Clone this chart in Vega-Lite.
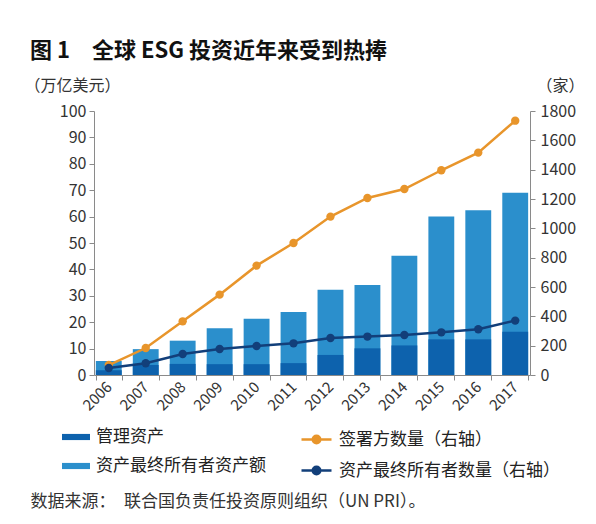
{
  "$schema": "https://vega.github.io/schema/vega-lite/v6.json",
  "autosize": "none",
  "width": 436,
  "height": 264,
  "padding": {"left": 94, "top": 111, "right": 66, "bottom": 149},
  "background": "white",
  "config": {
    "font": "Noto Sans CJK SC",
    "view": {"stroke": null},
    "axis": {"labelColor": "#333333", "labelFontSize": 16, "labelOverlap": false, "domainColor": "#8a8a8a", "tickColor": "#8a8a8a", "tickSize": 5, "grid": false, "titleColor": "#333333", "titleFontSize": 16, "titleFontWeight": "normal"}
  },
  "title": {
    "text": "图 1　全球 ESG 投资近年来受到热捧",
    "anchor": "start",
    "frame": "group",
    "dx": -64,
    "offset": 14,
    "fontSize": 22,
    "fontWeight": "bold",
    "color": "#111111"
  },
  "data": {
    "values": [
      {"year": "2006", "aum": 1.8, "total": 5.3, "signatories": 68, "owners": 48},
      {"year": "2007", "aum": 3.8, "total": 9.8, "signatories": 184, "owners": 80},
      {"year": "2008", "aum": 4.2, "total": 13.0, "signatories": 366, "owners": 143},
      {"year": "2009", "aum": 4.1, "total": 17.7, "signatories": 548, "owners": 177},
      {"year": "2010", "aum": 4.1, "total": 21.3, "signatories": 746, "owners": 198},
      {"year": "2011", "aum": 4.5, "total": 23.9, "signatories": 900, "owners": 216},
      {"year": "2012", "aum": 7.6, "total": 32.3, "signatories": 1080, "owners": 252},
      {"year": "2013", "aum": 10.1, "total": 34.1, "signatories": 1207, "owners": 262},
      {"year": "2014", "aum": 11.2, "total": 45.2, "signatories": 1268, "owners": 273},
      {"year": "2015", "aum": 13.5, "total": 60.0, "signatories": 1396, "owners": 291},
      {"year": "2016", "aum": 13.5, "total": 62.4, "signatories": 1516, "owners": 312},
      {"year": "2017", "aum": 16.4, "total": 69.0, "signatories": 1734, "owners": 371}
    ]
  },
  "encoding": {
    "x": {
      "field": "year",
      "type": "ordinal",
      "scale": {"paddingInner": 0.3, "paddingOuter": 0.05},
      "axis": {
        "labelAngle": -45,
        "labelAlign": "right",
        "labelBaseline": "middle",
        "labelFontSize": 15,
        "labelPadding": 4,
        "tickBand": "extent",
        "title": "数据来源：　联合国负责任投资原则组织（UN PRI）。",
        "titleFontSize": 17,
        "titleAlign": "left",
        "titleBaseline": "middle",
        "titleX": -64,
        "titleY": 126
      }
    }
  },
  "layer": [
    {
      "layer": [
        {
          "mark": {"type": "bar", "color": "#2b8fcc"},
          "encoding": {
            "y": {
              "field": "total",
              "type": "quantitative",
              "scale": {"domain": [0, 100]},
              "axis": {
                "values": [0, 10, 20, 30, 40, 50, 60, 70, 80, 90, 100],
                "format": "d",
                "labelPadding": 3,
                "title": "（万亿美元）",
                "titleAngle": 0,
                "titleAlign": "left",
                "titleBaseline": "middle",
                "titleX": -70,
                "titleY": -26
              }
            },
            "fill": {"datum": "资产最终所有者资产额"}
          }
        },
        {
          "mark": {"type": "bar"},
          "encoding": {
            "y": {
              "field": "aum",
              "type": "quantitative",
              "scale": {"domain": [0, 100]},
              "axis": {
                "values": [0, 10, 20, 30, 40, 50, 60, 70, 80, 90, 100],
                "format": "d",
                "labelPadding": 3,
                "title": "（万亿美元）",
                "titleAngle": 0,
                "titleAlign": "left",
                "titleBaseline": "middle",
                "titleX": -70,
                "titleY": -26
              }
            },
            "fill": {"datum": "管理资产"}
          }
        }
      ],
      "encoding": {
        "fill": {
          "type": "nominal",
          "scale": {"domain": ["管理资产", "资产最终所有者资产额"], "range": ["#0d62ad", "#2b8fcc"]},
          "legend": {
            "orient": "none",
            "legendX": -32,
            "legendY": 312,
            "title": null,
            "direction": "vertical",
            "labelFontSize": 17,
            "labelColor": "#222222",
            "labelLimit": 0,
            "labelOffset": 6,
            "symbolType": "M-1,-0.22H1V0.22H-1Z",
            "symbolSize": 784,
            "symbolStrokeWidth": 0,
            "rowPadding": 7,
            "padding": 0
          }
        }
      }
    },
    {
      "layer": [
        {
          "mark": {"type": "line", "strokeWidth": 2.5, "point": {"filled": true, "size": 70}},
          "encoding": {
            "y": {
              "field": "signatories",
              "type": "quantitative",
              "scale": {"domain": [0, 1800]},
              "axis": {
                "orient": "right",
                "values": [0, 200, 400, 600, 800, 1000, 1200, 1400, 1600, 1800],
                "format": "d",
                "labelPadding": 5,
                "title": "（家）",
                "titleAngle": 0,
                "titleAlign": "left",
                "titleBaseline": "middle",
                "titleX": 6,
                "titleY": -26
              }
            },
            "color": {"datum": "签署方数量（右轴）"}
          }
        },
        {
          "mark": {"type": "line", "strokeWidth": 2.5, "point": {"filled": true, "size": 70}},
          "encoding": {
            "y": {
              "field": "owners",
              "type": "quantitative",
              "scale": {"domain": [0, 1800]},
              "axis": {
                "orient": "right",
                "values": [0, 200, 400, 600, 800, 1000, 1200, 1400, 1600, 1800],
                "format": "d",
                "labelPadding": 5,
                "title": "（家）",
                "titleAngle": 0,
                "titleAlign": "left",
                "titleBaseline": "middle",
                "titleX": 6,
                "titleY": -26
              }
            },
            "color": {"datum": "资产最终所有者数量（右轴）"}
          }
        }
      ],
      "encoding": {
        "color": {
          "type": "nominal",
          "scale": {"domain": ["签署方数量（右轴）", "资产最终所有者数量（右轴）"], "range": ["#e8952b", "#123f7a"]},
          "legend": {
            "orient": "none",
            "legendX": 206,
            "legendY": 312,
            "title": null,
            "direction": "vertical",
            "labelFontSize": 17,
            "labelColor": "#222222",
            "labelLimit": 0,
            "labelOffset": 6,
            "symbolType": "M-1,0H1M0.25,0A0.25,0.25 0 1 1 -0.25,0A0.25,0.25 0 1 1 0.25,0",
            "symbolSize": 900,
            "symbolStrokeWidth": 2.5,
            "rowPadding": 5,
            "padding": 0,
            "encode": {"symbols": {"update": {"fill": {"scale": "color", "field": "value"}}}}
          }
        }
      }
    }
  ],
  "resolve": {"scale": {"y": "independent"}}
}
